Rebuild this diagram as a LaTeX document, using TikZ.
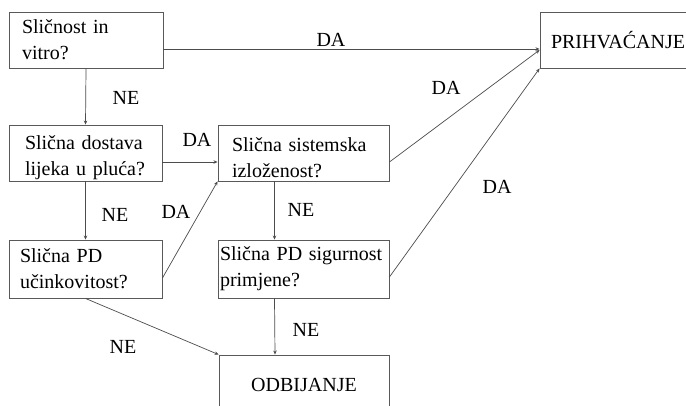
\documentclass[tikz,border=0pt]{standalone}
\usepackage{fontspec}
\setmainfont{Liberation Serif}
\usetikzlibrary{arrows.meta}
\newcommand{\lowered}[1]{\raisebox{-5pt}[\height][\depth]{#1}}
\begin{document}
\begin{tikzpicture}[x=1pt,y=-1pt,
  every node/.style={font=\fontsize{20}{26}\selectfont},
  box/.style={draw=black!65, line width=0.9pt, align=left, inner ysep=0pt},
  arr/.style={draw=black!70, line width=0.7pt, -{Stealth[length=4pt,width=3.5pt]}},
  lbl/.style={inner sep=0pt}]
\useasboundingbox (0,0) rectangle (686,405);
\fill[white] (0,0) rectangle (686,405);
\node[box, minimum width=154, minimum height=56, text width=128, inner xsep=13] (b1) at (86,40) {Sličnost in\\vitro?};
\node[box, minimum width=153, minimum height=56, text width=121, inner xsep=16] (b2) at (85.5,153) {\lowered{Slična dostava}\\\lowered{lijeka u pluća?}};
\node[box, minimum width=171, minimum height=56, text width=143, inner xsep=14] (b3) at (303.5,153) {\lowered{Slična sistemska}\\\lowered{izloženost?}};
\node[box, minimum width=153, minimum height=58, text width=131, inner xsep=11] (b4) at (85.5,269) {Slična PD\\učinkovitost?};
\node[box, minimum width=171, minimum height=58, text width=167, inner xsep=2] (b5) at (303.5,269) {Slična PD sigurnost\\primjene?};
\node[box, minimum width=170, minimum height=60, align=center] (b6) at (304,385) {ODBIJANJE};
\node[box, minimum width=160, minimum height=56, text width=138, inner xsep=11] (acc) at (620,40) {PRIHVAĆANJE};
% connectors
\draw[arr] ([yshift=-9pt]b1.east) -- ([yshift=-9pt]acc.west);
\draw[arr] (b1.south) -- (b2.north);
\draw[arr] ([yshift=-9pt]b2.east) -- ([yshift=-9pt]b3.west);
\draw[arr] (b2.south) -- (b4.north);
\draw[arr] ([yshift=-9pt]b4.east) -- (b3.south west);
\draw[arr] ([xshift=-29pt]b3.south) -- ([xshift=-29pt]b5.north);
\draw[arr] ([yshift=-9pt]b3.east) -- ([yshift=-10pt]acc.west);
\draw[arr] ([yshift=-8pt]b5.east) -- (acc.south west);
\draw[arr] (b4.south) -- (b6.north west);
\draw[arr] ([xshift=-29pt]b5.south) -- ([xshift=-29pt]b6.north);
% labels
\node[lbl] (l1) at (331,40) {DA};
\node[lbl] (l2) at (126,98) {NE};
\node[lbl] (l3) at (197,140) {DA};
\node[lbl] (l4) at (115,215) {NE};
\node[lbl] (l5) at (176,212) {DA};
\node[lbl] (l6) at (301,210) {NE};
\node[lbl] (l7) at (446,88) {DA};
\node[lbl] (l8) at (497,187) {DA};
\node[lbl] (l9) at (123,347) {NE};
\node[lbl] (l10) at (306,330) {NE};
\end{tikzpicture}
\end{document}
